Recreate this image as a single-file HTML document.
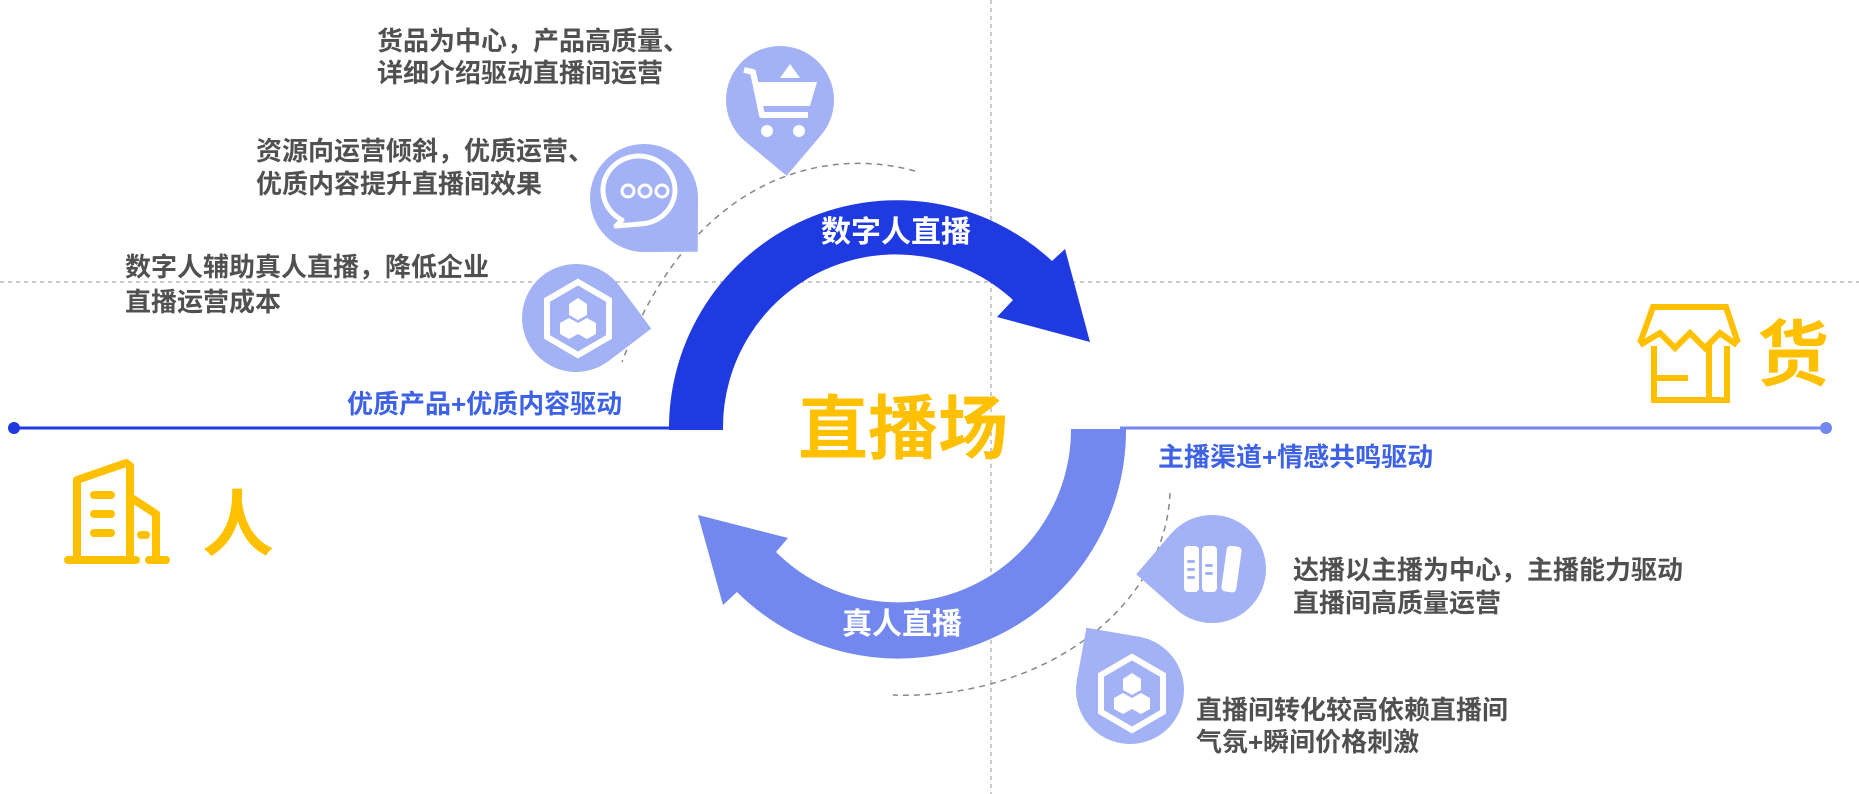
<!DOCTYPE html>
<html><head><meta charset="utf-8">
<style>
html,body{margin:0;padding:0;background:#fff;}
body{width:1859px;height:794px;position:relative;overflow:hidden;font-family:"Liberation Sans","Noto Sans CJK SC",sans-serif;}
.t{position:absolute;font-weight:700;color:#505050;font-size:26px;line-height:33px;white-space:nowrap;}
.b{position:absolute;font-weight:700;color:#3d62e6;font-size:26px;white-space:nowrap;line-height:30px;}
.w{position:absolute;font-weight:700;color:#fff;font-size:30px;white-space:nowrap;line-height:34px;transform:translateX(-50%);}
.y{position:absolute;font-weight:700;color:#FFC000;white-space:nowrap;}
svg{position:absolute;left:0;top:0;}
</style></head><body>
<svg width="1859" height="794" viewBox="0 0 1859 794">
<line x1="0" y1="282" x2="1859" y2="282" stroke="#aaa" stroke-width="1.2" stroke-dasharray="4 4"/>
<line x1="991" y1="0" x2="991" y2="794" stroke="#aaa" stroke-width="1.2" stroke-dasharray="4 4"/>
<path d="M 915 171 C 820 145, 690 180, 622 362" fill="none" stroke="#888" stroke-width="1.5" stroke-dasharray="6 5"/>
<path d="M 1170 493 C 1165 610, 1040 700, 893 695" fill="none" stroke="#888" stroke-width="1.5" stroke-dasharray="6 5"/>
<line x1="14" y1="428" x2="672" y2="428" stroke="#1f3ae0" stroke-width="3"/>
<circle cx="14" cy="428" r="6" fill="#1f3ae0"/>
<line x1="1120" y1="428" x2="1826" y2="428" stroke="#7388ee" stroke-width="3"/>
<circle cx="1826" cy="428" r="6" fill="#7388ee"/>
<path d="M 669 430 A 228 228 0 0 1 1052 261 L 1065 249 L 1090 342 L 997 317 L 1013 300 A 173 173 0 0 0 723 430 Z" fill="#1f3ae0"/>
<path d="M 1126 429 A 228 228 0 0 1 737 592 L 723 605 L 698 515 L 788 538 L 776 552 A 173 173 0 0 0 1071 429 Z" fill="#7388ee"/>
<g fill="#a3b1f5">
<path transform="translate(780,100) rotate(85)" d="M 76 0 L 38.2 38.2 A 54 54 0 1 1 38.2 -38.2 Z"/>
<path transform="translate(644,198) rotate(45)" d="M 76 0 L 38.2 38.2 A 54 54 0 1 1 38.2 -38.2 Z"/>
<path transform="translate(576,318) rotate(8)" d="M 76 0 L 38.2 38.2 A 54 54 0 1 1 38.2 -38.2 Z"/>
<path transform="translate(1212,569) rotate(176)" d="M 76 0 L 38.2 38.2 A 54 54 0 1 1 38.2 -38.2 Z"/>
<path transform="translate(1130,690) rotate(-125)" d="M 76 0 L 38.2 38.2 A 54 54 0 1 1 38.2 -38.2 Z"/>
</g>
<g fill="#fff" stroke="#fff">
<polyline points="744,70 753,72 762,115 808,115" fill="none" stroke-width="6" stroke-linejoin="round"/>
<polygon points="757,82 817,82 810,106 762,106" stroke="none"/>
<polygon points="790,64 800,78 780,78" stroke="none"/>
<circle cx="767" cy="131" r="6" stroke="none"/>
<circle cx="799" cy="131" r="6" stroke="none"/>
</g>
<g fill="none" stroke="#fff" stroke-width="5">
<path d="M 622 220 A 36 34 0 1 1 640 224 L 616 226 Z" stroke-linejoin="round"/>
<circle cx="628" cy="191" r="6" stroke-width="3"/>
<circle cx="645" cy="191" r="6" stroke-width="3"/>
<circle cx="662" cy="191" r="6" stroke-width="3"/>
</g>
<g>
<polygon points="578,282 609,300 609,337 578,355 547,337 547,300" fill="none" stroke="#fff" stroke-width="6"/>
<polygon points="578,298 587,304 587,315 578,320 569,315 569,304" fill="#fff"/>
<polygon points="569,318 578,323 578,334 569,339 560,334 560,323" fill="#fff"/>
<polygon points="587,318 596,323 596,334 587,339 578,334 578,323" fill="#fff"/>
</g>
<g>
<polygon points="1132,657 1163,675 1163,712 1132,730 1101,712 1101,675" fill="none" stroke="#fff" stroke-width="6"/>
<polygon points="1132,673 1141,679 1141,690 1132,695 1123,690 1123,679" fill="#fff"/>
<polygon points="1123,693 1132,698 1132,709 1123,714 1114,709 1114,698" fill="#fff"/>
<polygon points="1141,693 1150,698 1150,709 1141,714 1132,709 1132,698" fill="#fff"/>
</g>
<g fill="#fff">
<rect x="1184" y="546" width="15" height="46" rx="4"/>
<rect x="1202" y="546" width="15" height="46" rx="4"/>
<rect x="1224" y="546" width="15" height="46" rx="4" transform="rotate(8 1231 569)"/>
</g>
<g fill="#a3b1f5">
<rect x="1187" y="560" width="8" height="3" rx="1.5"/><rect x="1187" y="568" width="8" height="3" rx="1.5"/><rect x="1187" y="576" width="8" height="3" rx="1.5"/>
<rect x="1205" y="564" width="8" height="3" rx="1.5"/><rect x="1205" y="572" width="8" height="3" rx="1.5"/>
</g>
<g fill="none" stroke="#FFC000" stroke-width="6" stroke-linejoin="miter">
<polyline points="1640,343 1653,307 1726,307 1738,343"/>
<polyline points="1640,345 1660,333 1675,348 1690,333 1705,348 1720,333 1737,345"/>
<polyline points="1654,346 1654,400 1727,400 1727,346"/>
<line x1="1654" y1="378" x2="1688" y2="378"/>
<line x1="1709" y1="343" x2="1709" y2="400"/>
</g>
<g fill="none" stroke="#FFC000" stroke-width="8" stroke-linecap="round" stroke-linejoin="round">
<polyline points="77,558 77,480 126,463 130,466 130,558"/>
<polyline points="130,497 156,514 156,558"/>
<line x1="68" y1="560" x2="136" y2="560"/>
<line x1="149" y1="560" x2="166" y2="560"/>
<line x1="94" y1="495" x2="111" y2="495"/>
<line x1="94" y1="514" x2="111" y2="514"/>
<line x1="94" y1="533" x2="111" y2="533"/>
<line x1="141" y1="535" x2="146" y2="535"/>
</g>
</svg>

<div class="t" style="left:377px;top:25px;line-height:32px;">货品为中心，产品高质量、<br>详细介绍驱动直播间运营</div>
<div class="t" style="left:256px;top:135px;">资源向运营倾斜，优质运营、<br>优质内容提升直播间效果</div>
<div class="t" style="left:125px;top:250px;line-height:35px;">数字人辅助真人直播，降低企业<br>直播运营成本</div>
<div class="t" style="left:1293px;top:554px;">达播以主播为中心，主播能力驱动<br>直播间高质量运营</div>
<div class="t" style="left:1196px;top:694px;line-height:32px;">直播间转化较高依赖直播间<br>气氛+瞬间价格刺激</div>

<div class="b" style="left:347px;top:389px;">优质产品+优质内容驱动</div>
<div class="b" style="left:1158px;top:442px;">主播渠道+情感共鸣驱动</div>

<div class="w" style="left:896px;top:216px;">数字人直播</div>
<div class="w" style="left:902px;top:608px;">真人直播</div>

<div class="y" style="left:798px;top:387px;font-size:70px;line-height:84px;">直播场</div>
<div class="y" style="left:202px;top:484px;font-size:72px;line-height:84px;">人</div>
<div class="y" style="left:1757px;top:314px;font-size:72px;line-height:84px;">货</div>
</body></html>
